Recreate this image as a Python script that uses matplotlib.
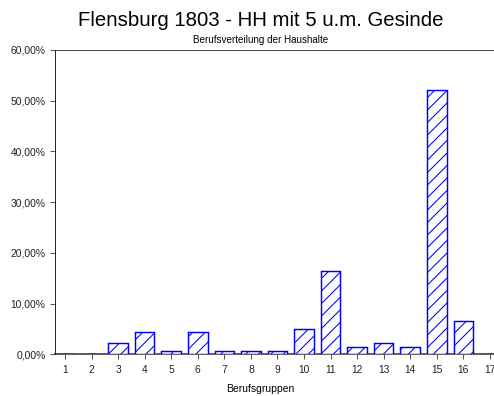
import matplotlib
matplotlib.use("Agg")
import matplotlib.pyplot as plt
from matplotlib.ticker import FuncFormatter

# Berufsgruppen 1..17, Anteil der Haushalte in %
groups = list(range(1, 18))
shares = [0.0, 0.0, 2.17, 4.35, 0.72, 4.35, 0.72, 0.72, 0.72,
          5.07, 16.37, 1.45, 2.17, 1.45, 52.2, 6.6, 0.0]
yticks = [0, 10, 20, 30, 40, 50, 60]

title = "Flensburg 1803 - HH mit 5 u.m. Gesinde"
subtitle = "Berufsverteilung der Haushalte"
xlabel = "Berufsgruppen"

DPI = 75
plt.rcParams['font.family'] = ['Liberation Sans', 'DejaVu Sans']
plt.rcParams['hatch.color'] = '#0000ff'
plt.rcParams['hatch.linewidth'] = 1.0

fig = plt.figure(figsize=(494 / DPI, 396 / DPI), dpi=DPI)
ax = fig.add_axes([55 / 494, 41.7 / 396, 1 - 55 / 494, (354.3 - 50) / 396])

ax.bar(groups, shares, width=0.74, color='white', edgecolor='#0000ff',
       linewidth=1.4, hatch='//', zorder=2)

# wie im Original: Achse endet am Bildrand, "17" wird angeschnitten
ax.set_xlim(0.623, 17.155)
ax.set_ylim(0, 60)
ax.set_xticks(groups)
ax.set_yticks(yticks)
ax.yaxis.set_major_formatter(FuncFormatter(lambda v, p: f"{v:.2f}%".replace('.', ',')))

ax.spines['right'].set_visible(False)
ax.spines['top'].set_color('#222222')
ax.spines['left'].set_color('black')
ax.spines['bottom'].set_color('#444444')
ax.spines['bottom'].set_linewidth(1.6)
ax.spines['bottom'].set_zorder(1)
ax.tick_params(axis='both', colors='#555555', labelcolor='#222222', labelsize=9.8,
               length=5, width=1)
ax.tick_params(axis='y', pad=4)
ax.tick_params(axis='x', pad=5)

fig.text(0.527, 1 - 20 / 396, title, ha='center', va='center', fontsize=19.6)
fig.text(0.528, 1 - 40 / 396, subtitle, ha='center', va='center', fontsize=9.5)
fig.text(0.527, 1 - 389 / 396, xlabel, ha='center', va='center', fontsize=10)

fig.savefig('out.png', dpi=DPI)
